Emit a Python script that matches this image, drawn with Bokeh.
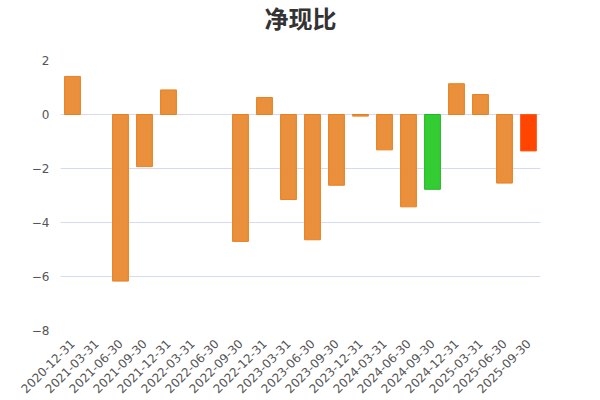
import math
from bokeh.plotting import figure
from bokeh.layouts import column
from bokeh.models import ColumnDataSource, FactorRange, Range1d, FixedTicker
from bokeh.core.properties import value
from bokeh.embed import file_html
from bokeh.resources import INLINE

categories = ["2020-12-31", "2021-03-31", "2021-06-30", "2021-09-30", "2021-12-31",
              "2022-03-31", "2022-06-30", "2022-09-30", "2022-12-31", "2023-03-31",
              "2023-06-30", "2023-09-30", "2023-12-31", "2024-03-31", "2024-06-30",
              "2024-09-30", "2024-12-31", "2025-03-31", "2025-06-30", "2025-09-30"]
values = [1.41, None, -6.17, -1.93, 0.91,
          None, None, -4.70, 0.63, -3.15,
          -4.64, -2.62, -0.06, -1.31, -3.42,
          -2.77, 1.14, 0.74, -2.54, -1.35]
y_ticks = [-8, -6, -4, -2, 0, 2]
title_text = "净现比"

default_fill, default_line = "#EA8F3C", "#E8801F"
highlight = {"2024-09-30": ("#33CC33", "#22B822"), "2025-09-30": ("#FF4500", "#FF5A1F")}

xs, tops, fills, lines = [], [], [], []
for c, v in zip(categories, values):
    if v is None:
        continue
    xs.append(c)
    tops.append(v)
    f, l = highlight.get(c, (default_fill, default_line))
    fills.append(f)
    lines.append(l)

src = ColumnDataSource(dict(x=xs, top=tops, fill=fills, line=lines))

# title strip
t = figure(x_range=Range1d(0, 1), y_range=Range1d(0, 48),
           frame_width=480, frame_height=48,
           min_border_left=60, min_border_right=44, min_border_top=0, min_border_bottom=0,
           output_backend="svg", toolbar_location=None)
t.text(x=[0.5], y=[31], text=[title_text], text_align="center", text_baseline="middle",
       text_font=value("Noto Sans CJK SC"), text_font_size="24px",
       text_font_style="bold", text_color="#333333")
t.axis.visible = False
t.grid.grid_line_color = None
t.outline_line_color = None
t.border_fill_color = "white"
t.background_fill_color = "white"

p = figure(x_range=FactorRange(*categories, range_padding=0),
           y_range=Range1d(-8, 2),
           frame_width=480, frame_height=270,
           min_border_left=60, min_border_right=44, min_border_top=12, min_border_bottom=10,
           output_backend="svg", toolbar_location=None)
p.vbar(x="x", top="top", bottom=0, width=0.66, source=src,
       fill_color="fill", line_color="line", line_width=1)

p.outline_line_color = None
p.xgrid.grid_line_color = None
p.ygrid.grid_line_color = "#D4DAF0"
p.yaxis.ticker = FixedTicker(ticks=y_ticks)
for ax in (p.xaxis, p.yaxis):
    ax.axis_line_color = None
    ax.major_tick_line_color = None
    ax.minor_tick_line_color = None
    ax.major_label_text_font = "DejaVu Sans"
    ax.major_label_text_font_size = "12px"
    ax.major_label_text_color = "#555555"
p.xaxis.major_label_orientation = math.pi / 4
p.background_fill_color = "white"
p.border_fill_color = "white"

layout = column(t, p, spacing=0)
open("out.html", "w").write(file_html(layout, INLINE))
